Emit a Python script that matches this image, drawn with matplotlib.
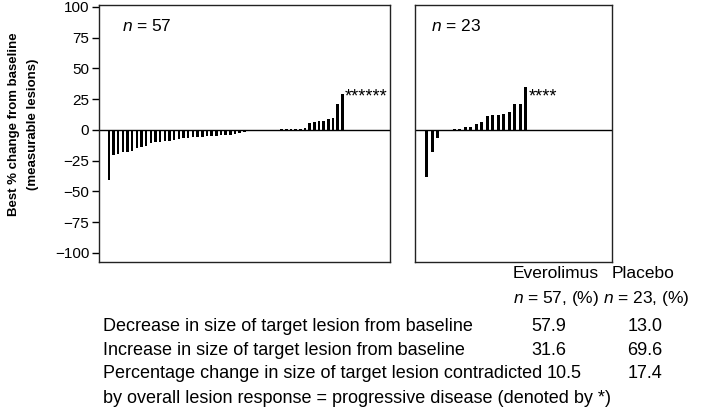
import numpy as np
import matplotlib
matplotlib.use('Agg')
import matplotlib.pyplot as plt

# fonts - closest installed sans to the original figure
plt.rcParams['font.family'] = ['Liberation Sans', 'DejaVu Sans']
plt.rcParams['mathtext.fontset'] = 'custom'
plt.rcParams['mathtext.rm'] = 'Liberation Sans'
plt.rcParams['mathtext.it'] = 'Liberation Sans:italic'

# best % change per patient, sorted (everolimus, n = 57; 6 PD patients marked by *)
evero_change = [-41, -20.5, -19.7, -18.3, -17.8, -17, -14.5, -13.7, -13, -10.4,
                -10, -9.6, -9, -8.7, -8.2, -7.7, -6.8, -6.3, -6, -5.5,
                -5.5, -5.2, -4.9, -4.6, -4.4, -4, -3.8, -3.3, -2.7, -1.6,
                -0.8, -0.3, -0.2,
                0.1, 0.1, 0.2, 0.3, 0.4, 0.5, 0.6, 0.8, 1.0, 1.5,
                5.5, 6, 7, 7.2, 9, 9.5, 21, 29.5]
evero_stars = '******'

# placebo, n = 23; 4 PD patients marked by *
placebo_change = [-38, -18, -7, 0.1, 0.2, 0.5, 1, 2, 2.5, 4.4, 6.3,
                  11.5, 11.7, 11.7, 12.8, 14.2, 20.8, 21.3, 35]
placebo_stars = '****'

yticks = [-100, -75, -50, -25, 0, 25, 50, 75, 100]

table_head = ['Everolimus', 'Placebo']
table_n = ['$n$ = 57, (%)', '$n$ = 23, (%)']
row_labels = ['Decrease in size of target lesion from baseline',
              'Increase in size of target lesion from baseline',
              'Percentage change in size of target lesion contradicted']
row_tail = 'by overall lesion response = progressive disease (denoted by *)'
evero_pct = ['57.9', '31.6', '10.5']
placebo_pct = ['13.0', '69.6', '17.4']

fig = plt.figure(figsize=(7.09, 4.15), dpi=100)
ax1 = fig.add_axes([99/709, 1-262/415, 291/709, 257/415])
ax2 = fig.add_axes([415/709, 1-262/415, 197/709, 257/415])

def panel(ax, values, stars, label, xlim):
    x = np.arange(len(values))
    ax.bar(x, values, width=0.55, color='black')
    ax.axhline(0, color='black', lw=1.0)
    ax.set_xlim(*xlim)
    ax.set_ylim(-107.5, 101.6)
    ax.set_xticks([])
    for s in ax.spines.values():
        s.set_linewidth(1.0)
        s.set_color('#222222')
    ax.text(x[-1] + 0.5, 26.5, stars, fontsize=13, va='center', ha='left')
    ax.text(0.08, 0.918, label, transform=ax.transAxes, fontsize=12.5,
            va='center', ha='left')

panel(ax1, evero_change, evero_stars, '$n$ = 57', (-2.1, 60.2))
panel(ax2, placebo_change, placebo_stars, '$n$ = 23', (-2.1, 33.6))

ax1.set_yticks(yticks)
ax1.set_yticklabels([str(t).replace('-', '\u2212') for t in yticks], fontsize=11)
ax1.tick_params(axis='y', direction='out', length=5, width=1.0, pad=2)
ax2.set_yticks([])

fig.text(0.033, 0.70, 'Best % change from baseline\n(measurable lesions)',
         rotation=90, ha='center', va='center', fontsize=9.5,
         fontweight='bold', multialignment='center', linespacing=1.75)

# summary table under the panels
hs = 12.5
fs = 13
fig.text(513/709, 1-274/415, table_head[0], fontsize=hs, va='center', ha='left')
fig.text(612/709, 1-274/415, table_head[1], fontsize=hs, va='center', ha='left')
fig.text(513/709, 1-298/415, table_n[0], fontsize=hs, va='center', ha='left')
fig.text(603/709, 1-298/415, table_n[1], fontsize=hs, va='center', ha='left')
row_y = [326, 350, 374]
for i, y in enumerate(row_y):
    lab = fig.text(103/709, 1-y/415, row_labels[i], fontsize=fs, va='center', ha='left')
    if i < 2:
        fig.text(549/709, 1-y/415, evero_pct[i], fontsize=fs, va='center', ha='center')
    else:
        # in the original this value sits right after the long label
        ax1.annotate(evero_pct[i], xy=(1, 0.5), xycoords=lab, xytext=(3, 0),
                     textcoords='offset points', fontsize=fs, va='center',
                     ha='left', annotation_clip=False)
    fig.text(645/709, 1-y/415, placebo_pct[i], fontsize=fs, va='center', ha='center')
fig.text(103/709, 1-398/415, row_tail, fontsize=fs, va='center', ha='left')

fig.savefig('out.png', dpi=100)
